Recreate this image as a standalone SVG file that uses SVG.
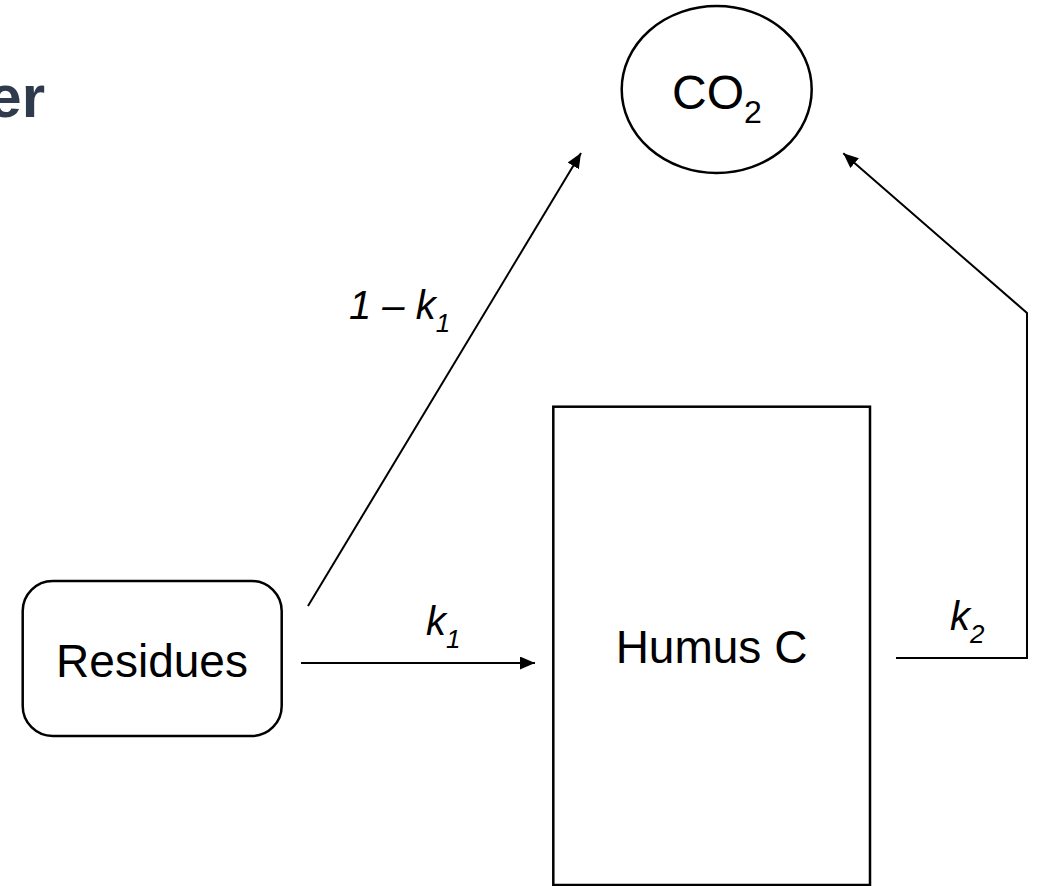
<svg xmlns="http://www.w3.org/2000/svg" width="1038" height="886" viewBox="0 0 1038 886">
  <style>
    .node { fill: #ffffff; stroke: #000000; stroke-width: 2.5; }
    .lbl { font-family: "Liberation Sans", Arial, sans-serif; fill: #000000; }
    .it { font-family: "Liberation Sans", Arial, sans-serif; font-style: italic; fill: #000000; font-size: 40px; }
    .conn { fill: none; stroke: #000000; stroke-width: 2; }
  </style>
  <defs>
    <marker id="arrow" markerUnits="userSpaceOnUse" markerWidth="16" markerHeight="14" refX="15" refY="6.5" orient="auto">
      <path d="M0,0 L15,6.5 L0,13 Z" fill="#000000"/>
    </marker>
  </defs>
  <rect width="1038" height="886" fill="#ffffff"/>

  <text x="45" y="117" text-anchor="end" font-family="'Liberation Sans', Arial, sans-serif" font-weight="bold" font-size="60" fill="#2f3b4d">er</text>

  <g id="co2">
    <ellipse class="node" cx="716.7" cy="89.5" rx="95" ry="83.5"/>
    <text class="lbl" x="672" y="109" font-size="48">CO<tspan font-size="32" dy="14">2</tspan></text>
  </g>

  <g id="residues">
    <rect class="node" x="22.7" y="581" width="259" height="155" rx="30" ry="30"/>
    <text class="lbl" x="152" y="677" font-size="46" text-anchor="middle">Residues</text>
  </g>

  <g id="humus">
    <rect class="node" x="553.3" y="406.7" width="316.7" height="478.3"/>
    <text class="lbl" x="711.5" y="663" font-size="46" text-anchor="middle">Humus C</text>
  </g>

  <g id="connectors">
    <line class="conn" x1="308" y1="606" x2="581" y2="153" marker-end="url(#arrow)"/>
    <line class="conn" x1="301" y1="663" x2="535" y2="663" marker-end="url(#arrow)"/>
    <polyline class="conn" points="896,658 1027,658 1027,313 843.3,153.3" marker-end="url(#arrow)"/>
  </g>

  <g id="labels">
    <text class="it" x="349" y="319">1 – k<tspan font-size="26" dy="13">1</tspan></text>
    <text class="it" x="426" y="635">k<tspan font-size="26" dy="13">1</tspan></text>
    <text class="it" x="950" y="630">k<tspan font-size="26" dy="13">2</tspan></text>
  </g>
</svg>
